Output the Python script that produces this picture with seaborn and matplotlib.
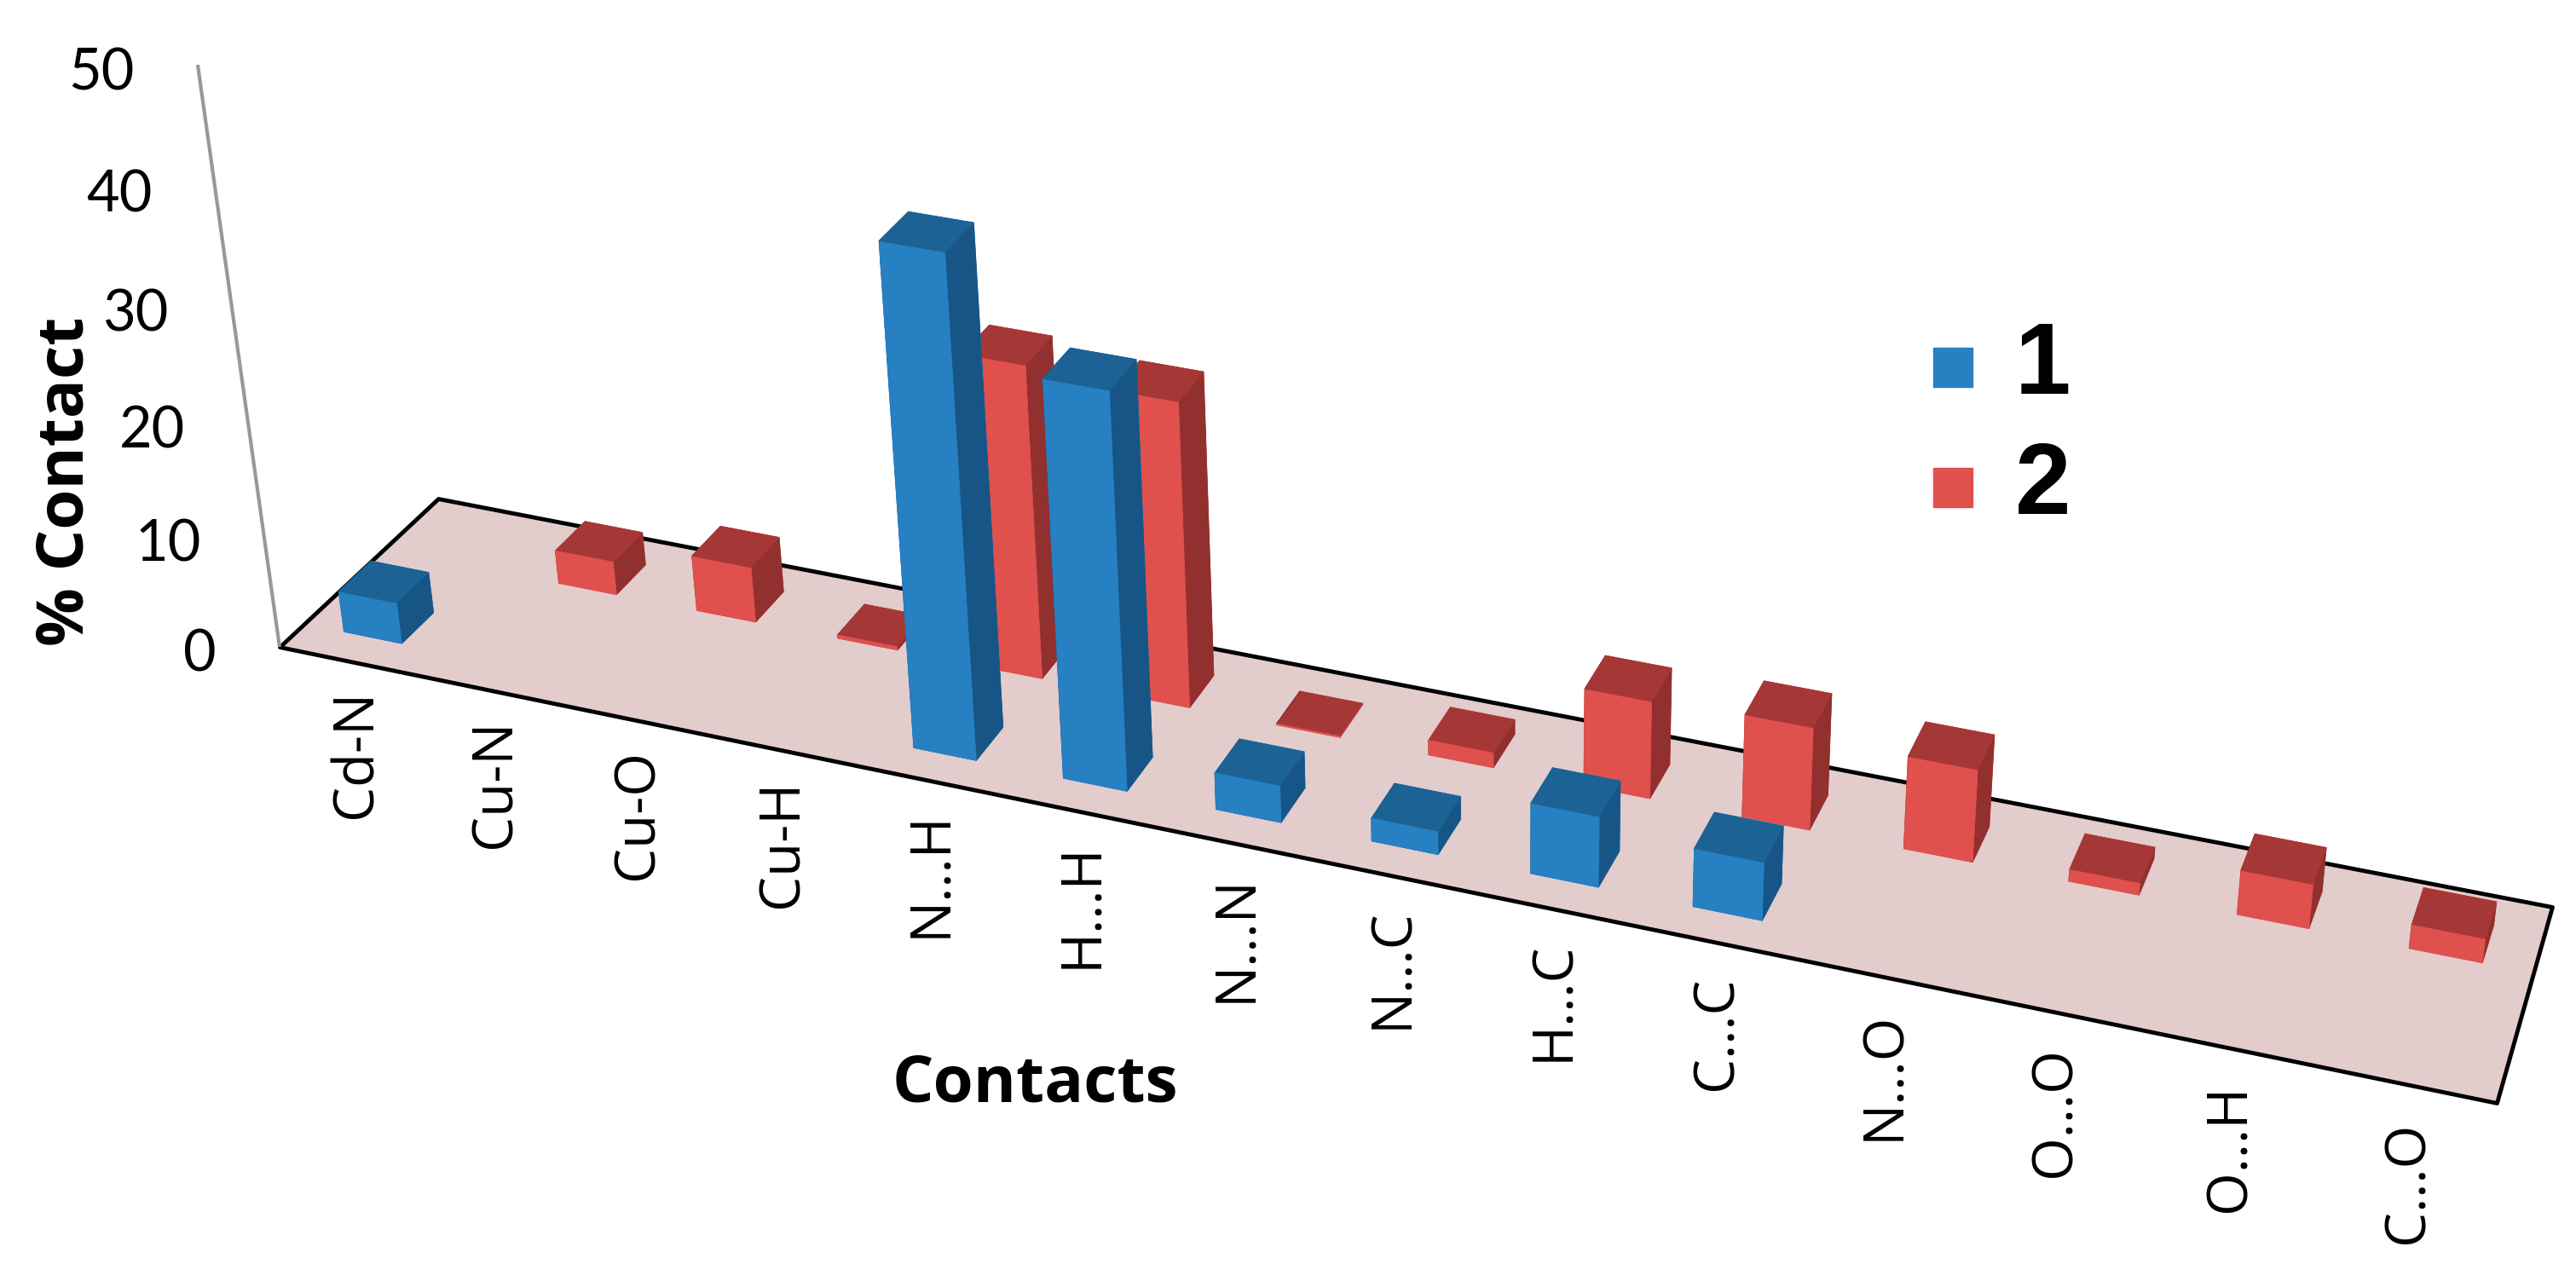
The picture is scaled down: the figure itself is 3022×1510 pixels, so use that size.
import numpy as np
import matplotlib
matplotlib.use("Agg")
import matplotlib.pyplot as plt
from matplotlib.legend_handler import HandlerPatch
from matplotlib.patches import Patch, Rectangle
from mpl_toolkits.mplot3d.art3d import Poly3DCollection, Line3DCollection
import seaborn as sns

contacts = ['Cd-N', 'Cu-N', 'Cu-O', 'Cu-H', 'N...H', 'H...H', 'N...N',
            'N...C', 'H...C', 'C...C', 'N...O', 'O...O', 'O...H', 'C...O']
series_1 = [3.7, 0, 0, 0, 42.9, 34.0, 3.2, 2.0, 6.1, 5.0, 0, 0, 0, 0]
series_2 = [0, 3.0, 5.0, 0.3, 27.5, 26.7, 0.1, 1.3, 8.5, 8.9, 8.0, 1.0, 3.8, 2.0]
z_ticks = [0, 10, 20, 30, 40, 50]

W, H = 3022, 1510
BAR_W, BAR_D = 0.42, 0.40

sns.set_theme(style="white")
plt.rcParams['font.family'] = ['Lato', 'DejaVu Sans']
plt.rcParams['text.color'] = 'black'

blue = sns.color_palette(['#2680c2', '#1c6294', '#175586'])
red = sns.color_palette(['#e0504c', '#a53836', '#922f2f'])
floor_col = '#e2cccc'


def camera():
    # floor corners on the picture, then the vanishing point of the verticals
    world = [(0, 0), (14, 0), (14, 2), (0, 2)]
    pix = [(328, 759), (2929, 1294), (2994, 1064), (514, 585)]
    A, b = [], []
    for (x, y), (u, v) in zip(world, pix):
        A.append([x, y, 1, 0, 0, 0, -u * x, -u * y])
        A.append([0, 0, 0, x, y, 1, -v * x, -v * y])
        b += [u, v]
    h = np.linalg.solve(np.array(A, float), np.array(b, float))
    vx, vy = 1766.0, 10984.0
    lam = (76 - 759) / (50 * (vy - 76))
    return np.array([
        [h[0], h[1], lam * vx, h[2]],
        [h[3], h[4], lam * vy, h[5]],
        [-0.02, 1.0, -0.1, 5.0],
        [h[6], h[7], lam, 1.0],
    ])


M = camera()


def to_px(x, y, z):
    p = M @ np.array([x, y, z, 1.0])
    return p[0] / p[3], p[1] / p[3]


fig = plt.figure(figsize=(W / 100, H / 100), dpi=100)
ax = fig.add_axes([0, 0, 1, 1], projection='3d')
ax.apply_aspect = lambda position=None: None
ax.get_proj = lambda: M
ax.viewLim.intervalx = (0, W)
ax.viewLim.intervaly = (H, 0)
ax.set_axis_off()
ax.computed_zorder = False

floor = Poly3DCollection([[(0, 0, 0), (14, 0, 0), (14, 2, 0), (0, 2, 0)]],
                         facecolors=floor_col, edgecolors='black',
                         linewidths=3.5, zorder=1)
ax.add_collection3d(floor)
z_axis = Line3DCollection([[(0, 0, 0), (0, 0, 50)]], colors='#989898',
                          linewidths=3, zorder=1.5)
ax.add_collection3d(z_axis)


def draw_series(values, row, cols, zorder):
    # faces: bottom, top, front, back, left, right
    faces = [cols[0], cols[1], cols[0], cols[0], cols[2], cols[2]]
    for i, v in enumerate(values):
        if v > 0:
            ax.bar3d(i + 0.5 - BAR_W / 2, row + 0.3, 0, BAR_W, BAR_D, v,
                     color=faces, edgecolors=faces, linewidths=0.6, shade=False,
                     zorder=zorder + i * 0.01)


draw_series(series_2, 1, red, 2)
draw_series(series_1, 0, blue, 3)

for i, lab in enumerate(contacts):
    px = to_px(i + 0.5, 0.1, 0)[0]
    py = to_px(i + 0.5, -0.36, 0)[1]
    ax.text2D(px, py, lab, transform=ax.transData, rotation=90, ha='center',
              va='top', fontsize=47, family=['Open Sans', 'DejaVu Sans'])

for z in z_ticks:
    px, py = to_px(0, 0, z)
    ax.text2D(px - 74, py + 10, str(z), transform=ax.transData, ha='right',
              va='center', fontsize=48)

ax.text2D(78, 565, '% Contact', transform=ax.transData, rotation=90, ha='center',
          va='center', fontsize=55, fontweight='bold',
          family=['Open Sans', 'DejaVu Sans'])
ax.text2D(1214, 1273, 'Contacts', transform=ax.transData, ha='center',
          va='center', fontsize=55, fontweight='bold',
          family=['Open Sans', 'DejaVu Sans'])


def square_handle(legend, orig_handle, xdescent, ydescent, width, height, fontsize):
    return Rectangle((0, 0.068 * fontsize), width, width)


handles = [Patch(color=blue[0], label='1'), Patch(color=red[0], label='2')]
fig.legend(handles=handles, loc='center left', bbox_to_anchor=(0.7505, 0.6675),
           frameon=False, borderpad=0, borderaxespad=0,
           handlelength=0.39, labelspacing=0.256, handletextpad=0.42,
           handler_map={Patch: HandlerPatch(patch_func=square_handle)},
           prop={'family': 'Liberation Sans', 'weight': 'bold', 'size': 85})

fig.savefig('out.png', dpi=100)
